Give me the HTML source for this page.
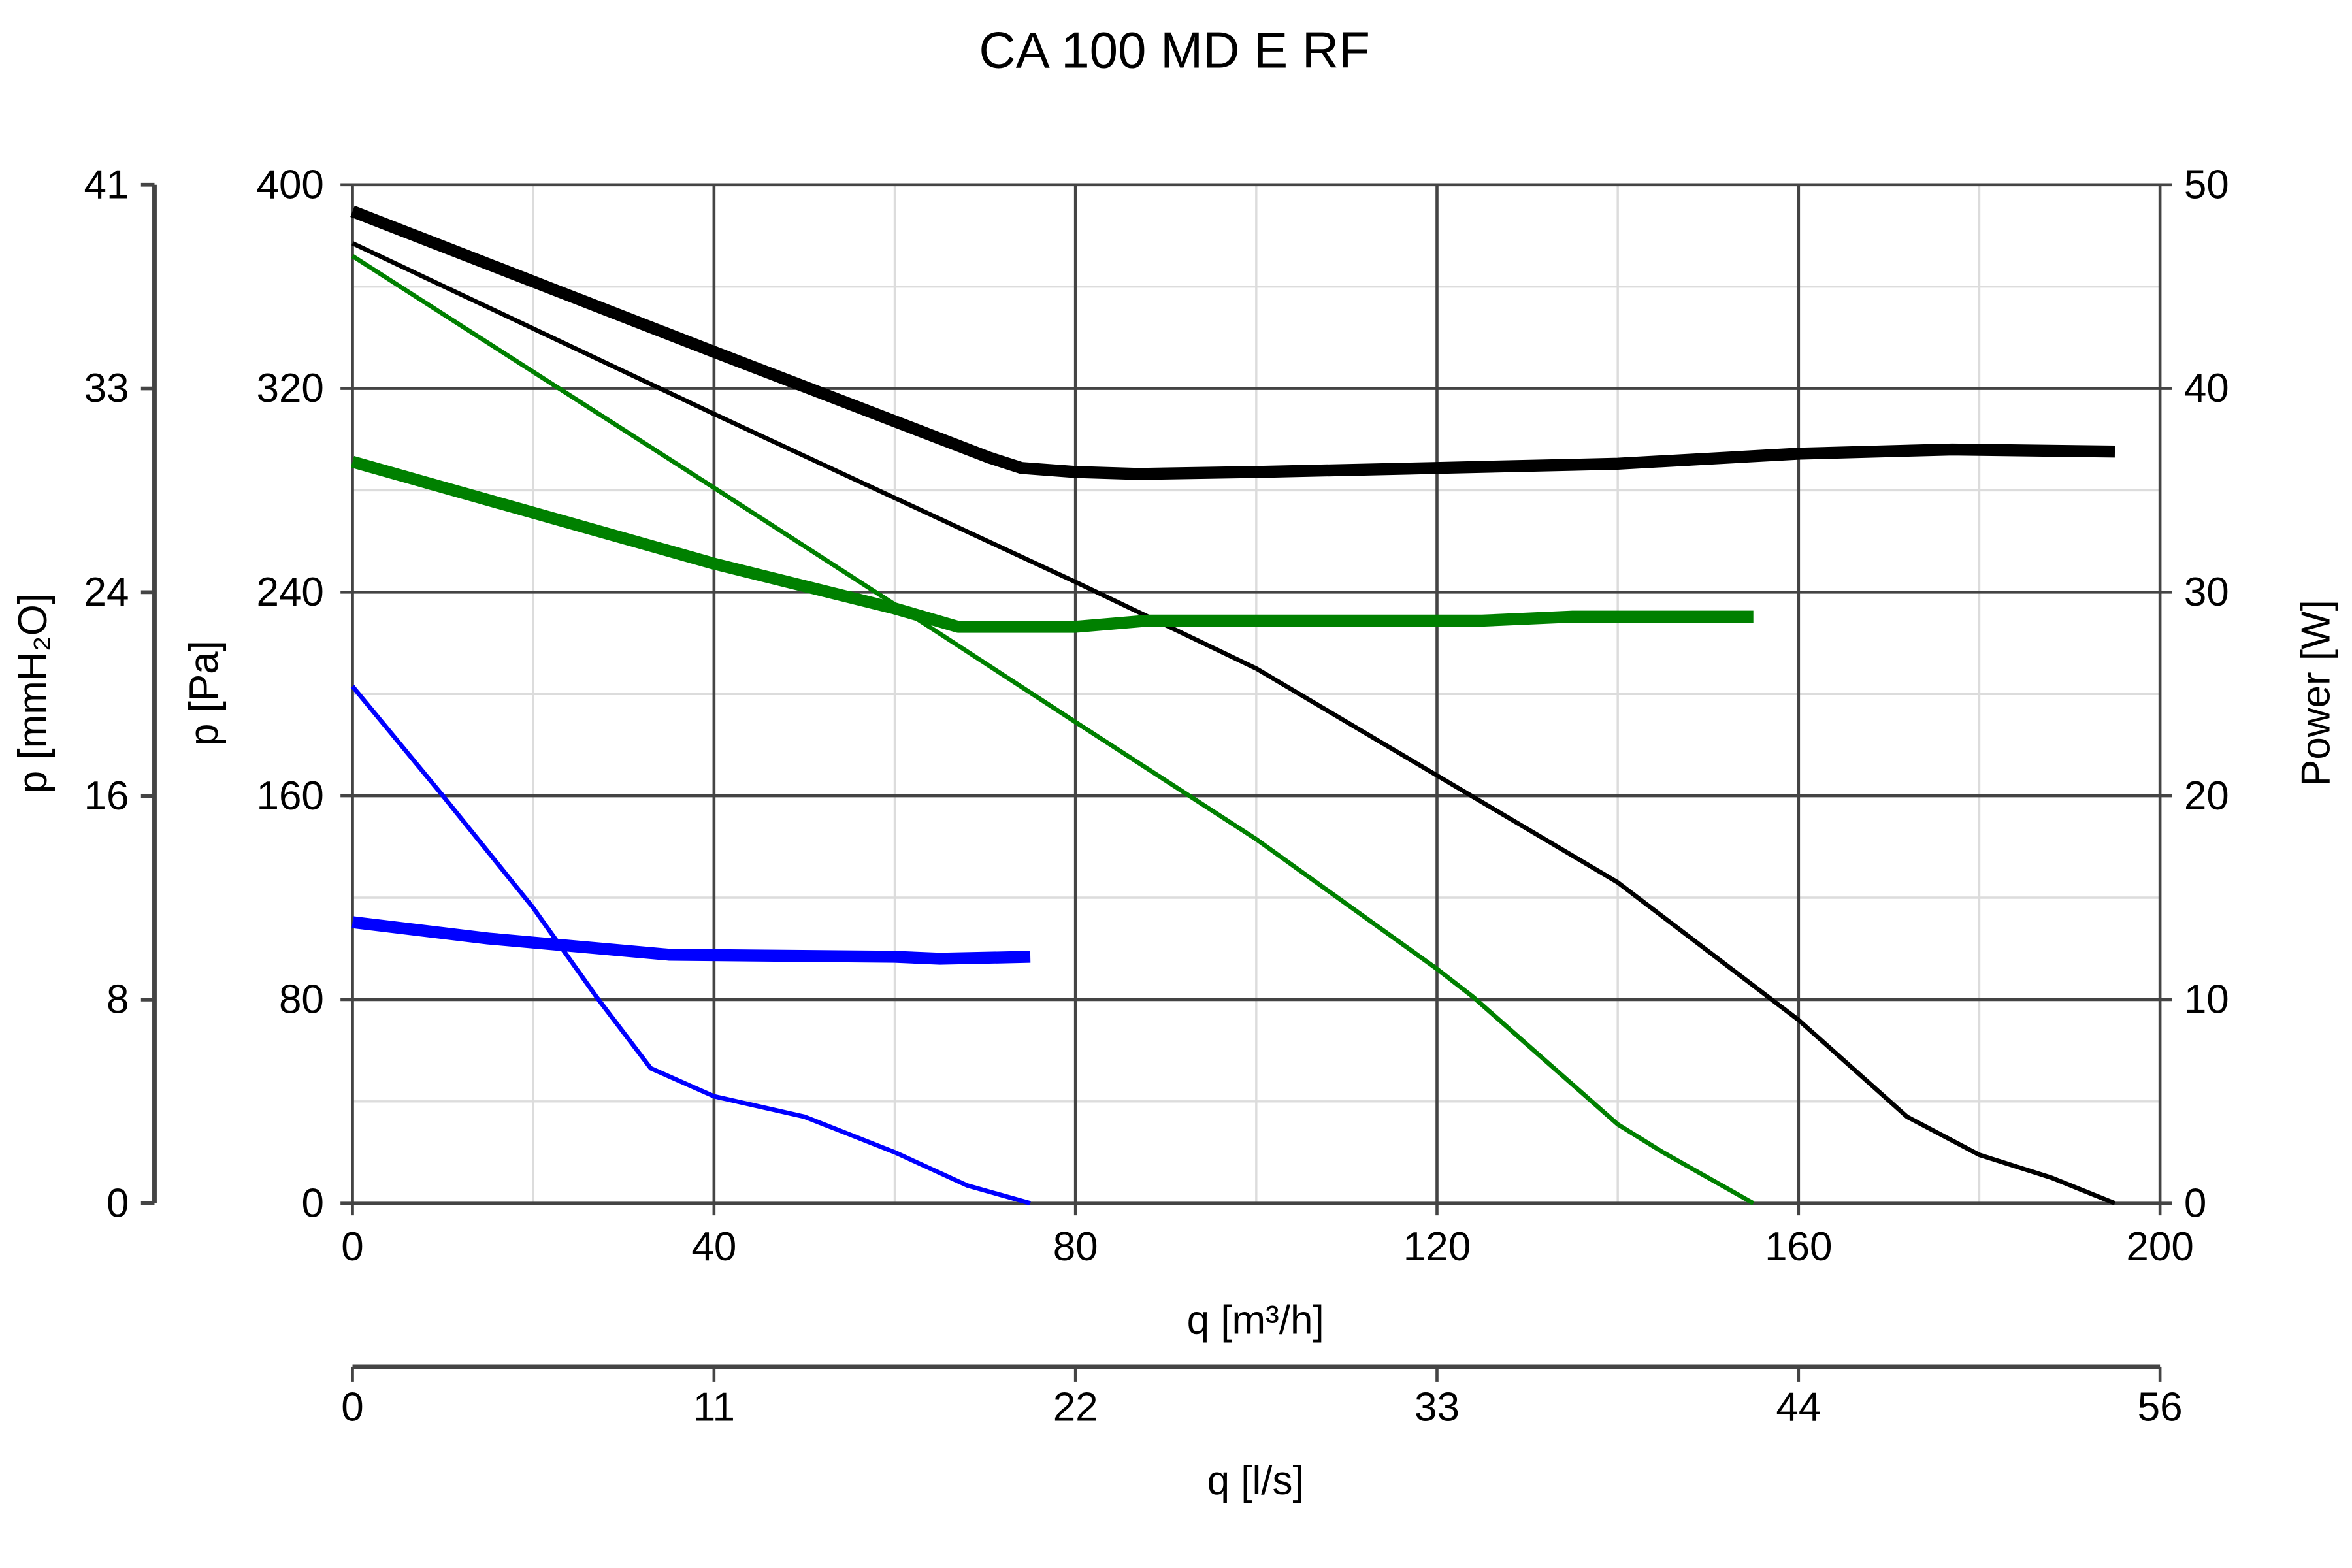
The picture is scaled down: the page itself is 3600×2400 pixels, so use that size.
<!DOCTYPE html>
<html><head><meta charset="utf-8"><style>
html,body{margin:0;padding:0;background:#fff}
svg{display:block}
text{font-family:"Liberation Sans",sans-serif;fill:#000}
</style></head><body>
<svg id="chart" width="3600" height="2400" viewBox="0 0 1568 1045" xmlns="http://www.w3.org/2000/svg">
<text x="783" y="45" font-size="34" text-anchor="middle">CA 100 MD E RF</text>
<g id="grid"></g>
<g id="axes"></g>
<g id="series"></g>
<text x="837" y="889" font-size="27" text-anchor="middle">q [m³/h]</text>
<text x="837" y="996" font-size="27" text-anchor="middle">q [l/s]</text>
<text transform="translate(145,462) rotate(-90)" font-size="27" text-anchor="middle">p [Pa]</text>
<text transform="translate(31,462) rotate(-90)" font-size="27" text-anchor="middle">p [mmH₂O]</text>
<text transform="translate(1553,462) rotate(-90)" font-size="27" text-anchor="middle">Power [W]</text>
</svg>
<script>
const xTicks=[0,40,80,120,160,200];
const yTicks=[0,80,160,240,320,400];
const mmTicks=["0","8","16","24","33","41"];
const wTicks=[0,10,20,30,40,50];
const lsTicks=["0","11","22","33","44","56"];
const blackPressureQ=[0,40,80,100,120,140,160,172,180,188,195];
const blackPressureP=[377,310,244,210,168,126,72,34,19,10,0];
const greenPressureQ=[0,40,64,80,100,120,124,140,145,155];
const greenPressureP=[372,281,226,189,143,92,81,31,20,0];
const bluePressureQ=[0,10,20,27,33,40,50,60,68,75];
const bluePressureP=[203,160,116,81,53,42,34,20,7,0];
const blackPowerQ=[0,40,70.5,74,80,87,100,120,140,160,177,195];
const blackPowerW=[48.7,41.8,36.6,36.1,35.9,35.8,35.9,36.1,36.3,36.8,37.0,36.9];
const greenPowerQ=[0,40,60,67,80,88,100,125,135,155];
const greenPowerW=[36.4,31.4,29.2,28.3,28.3,28.6,28.6,28.6,28.8,28.8];
const bluePowerQ=[0,15,35,60,65,75];
const bluePowerW=[13.8,13.0,12.2,12.1,12.0,12.1];

const X0=235,X1=1440,Y0=802,Y1=123;
const xs=q=>X0+(q/200)*(X1-X0);
const yp=p=>Y0-(p/400)*(Y0-Y1);
const yw=w=>Y0-(w/50)*(Y0-Y1);
const NS="http://www.w3.org/2000/svg";
function mk(tag,parent,attrs){const e=document.createElementNS(NS,tag);for(const k in attrs)e.setAttribute(k,attrs[k]);parent.appendChild(e);return e;}
const grid=document.getElementById('grid'),axes=document.getElementById('axes'),series=document.getElementById('series');
// minor grid
for(let q=20;q<200;q+=40){const l=mk('line',grid,{x1:xs(q),x2:xs(q),y1:Y1,y2:Y0,stroke:'#dcdcdc','stroke-width':1.5});

}
for(let p=40;p<400;p+=80){const l=mk('line',grid,{x1:X0,x2:X1,y1:yp(p),y2:yp(p),stroke:'#dcdcdc','stroke-width':1.5});

}
xTicks.forEach((q,i)=>{const l=mk('line',grid,{x1:xs(q),x2:xs(q),y1:Y1,y2:Y0+8,stroke:'#444','stroke-width':2});


const t=mk('text',axes,{x:xs(q),y:Y0+38,'font-size':27,'text-anchor':'middle'});t.textContent=q;


const k=mk('line',axes,{x1:xs(q),x2:xs(q),y1:911,y2:921,stroke:'#444','stroke-width':2});


const t2=mk('text',axes,{x:xs(q),y:947,'font-size':27,'text-anchor':'middle'});t2.textContent=lsTicks[i];

});
yTicks.forEach((p,i)=>{const l=mk('line',grid,{x1:X0-8,x2:X1+8,y1:yp(p),y2:yp(p),stroke:'#444','stroke-width':2});


const t=mk('text',axes,{x:X0-19,y:yp(p)+9,'font-size':27,'text-anchor':'end'});t.textContent=p;


const t2=mk('text',axes,{x:X1+16,y:yp(wTicks[i]*8)+9,'font-size':27,'text-anchor':'start'});t2.textContent=wTicks[i];


const k=mk('line',axes,{x1:94,x2:103,y1:yp(p),y2:yp(p),stroke:'#444','stroke-width':2.5});


const t3=mk('text',axes,{x:86,y:yp(p)+9,'font-size':27,'text-anchor':'end'});t3.textContent=mmTicks[i];

});
const a1=mk('line',axes,{x1:103,x2:103,y1:Y1,y2:Y0,stroke:'#444','stroke-width':3});


const a2=mk('line',axes,{x1:X0,x2:X1,y1:911,y2:911,stroke:'#444','stroke-width':3});


function draw(qs,vs,yf,color,w,name){const d=qs.map((q,i)=>(i?'L':'M')+xs(q).toFixed(1)+','+yf(vs[i]).toFixed(1)).join(' ');
const p=mk('path',series,{d:d,fill:'none',stroke:color,'stroke-width':w,'stroke-linejoin':'round'});

}
draw(blackPressureQ,blackPressureP,yp,'#000',3,'pressure-curve-black');
draw(greenPressureQ,greenPressureP,yp,'#008000',3,'pressure-curve-green');
draw(bluePressureQ,bluePressureP,yp,'#0000ff',3,'pressure-curve-blue');
draw(blackPowerQ,blackPowerW,yw,'#000',8,'power-curve-black');
draw(greenPowerQ,greenPowerW,yw,'#008000',8,'power-curve-green');
draw(bluePowerQ,bluePowerW,yw,'#0000ff',8,'power-curve-blue');
</script>
</body></html>
